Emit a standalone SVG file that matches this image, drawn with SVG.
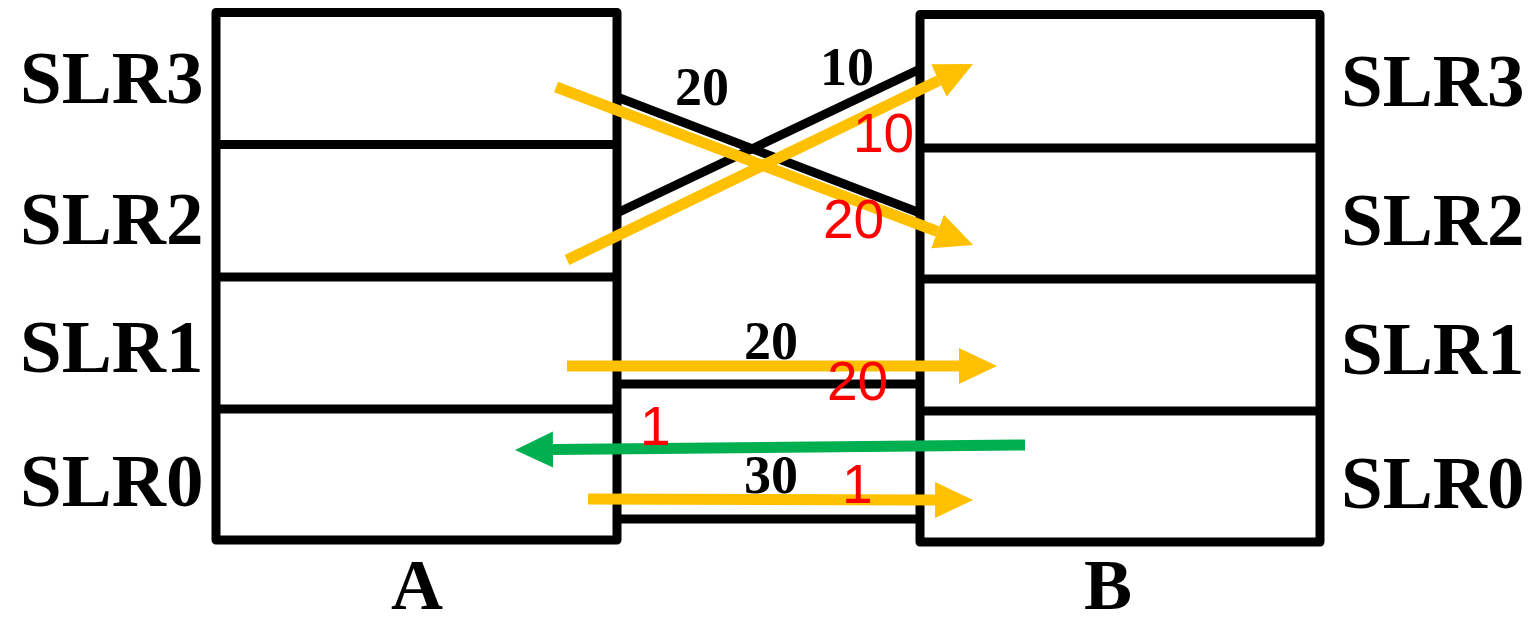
<svg xmlns="http://www.w3.org/2000/svg" width="1530" height="625" viewBox="0 0 1530 625">
  <style>
    .box { fill: none; stroke: #000; stroke-width: 9; stroke-linejoin: round; }
    .div { stroke: #000; stroke-width: 9; }
    .link { stroke: #000; stroke-width: 9; fill: none; }
    .slr { font-family: "Liberation Serif", "Times New Roman", serif; font-weight: bold; font-size: 75px; fill: #000; }
    .lbl { font-family: "Liberation Serif", "Times New Roman", serif; font-weight: bold; font-size: 72px; fill: #000; }
    .bw { font-family: "Liberation Serif", "Times New Roman", serif; font-weight: bold; font-size: 54px; fill: #000; }
    .red { font-family: "Liberation Sans", Arial, sans-serif; font-size: 55px; fill: #FF0000; }
    .or { stroke: #FFC000; stroke-width: 11; fill: none; marker-end: url(#ho); }
    .gr { stroke: #00B050; stroke-width: 11; fill: none; marker-end: url(#hg); }
  </style>
  <defs>
    <marker id="ho" markerUnits="userSpaceOnUse" markerWidth="40" markerHeight="38" refX="0" refY="18" orient="auto">
      <path d="M0,0 L38,18 L0,36 z" fill="#FFC000"/>
    </marker>
    <marker id="hg" markerUnits="userSpaceOnUse" markerWidth="40" markerHeight="38" refX="0" refY="18" orient="auto">
      <path d="M0,0 L38,18 L0,36 z" fill="#00B050"/>
    </marker>
  </defs>
  <rect width="1530" height="625" fill="#fff"/>

  <g id="nodeA">
    <rect class="box" x="216" y="12.5" width="401" height="527.5"/>
    <line class="div" x1="216" y1="144.5" x2="617" y2="144.5"/>
    <line class="div" x1="216" y1="277" x2="617" y2="277"/>
    <line class="div" x1="216" y1="409" x2="617" y2="409"/>
    <text class="lbl" x="417" y="609" text-anchor="middle">A</text>
  </g>

  <g id="nodeB">
    <rect class="box" x="920" y="14.5" width="400" height="527.5"/>
    <line class="div" x1="920" y1="148" x2="1320" y2="148"/>
    <line class="div" x1="920" y1="279" x2="1320" y2="279"/>
    <line class="div" x1="920" y1="411" x2="1320" y2="411"/>
    <text class="lbl" x="1108" y="609" text-anchor="middle">B</text>
  </g>

  <g id="labelsLeft">
    <text class="slr" x="20" y="103">SLR3</text>
    <text class="slr" x="20" y="244">SLR2</text>
    <text class="slr" x="20" y="372">SLR1</text>
    <text class="slr" x="20" y="506">SLR0</text>
  </g>
  <g id="labelsRight">
    <text class="slr" x="1341" y="106">SLR3</text>
    <text class="slr" x="1341" y="245">SLR2</text>
    <text class="slr" x="1341" y="374">SLR1</text>
    <text class="slr" x="1341" y="508">SLR0</text>
  </g>

  <g id="links">
    <line class="link" x1="617" y1="97" x2="920" y2="213"/>
    <line class="link" x1="617" y1="213" x2="920" y2="69"/>
    <line class="link" x1="617" y1="384" x2="920" y2="384"/>
    <line class="link" x1="617" y1="519" x2="920" y2="519"/>
    <text class="bw" x="702" y="105" text-anchor="middle">20</text>
    <text class="bw" x="847" y="85" text-anchor="middle">10</text>
    <text class="bw" x="771" y="359" text-anchor="middle">20</text>
    <text class="bw" x="771" y="493" text-anchor="middle">30</text>
  </g>

  <g id="connectors">
    <line class="or" x1="556" y1="87" x2="937.5" y2="231.5"/>
    <line class="or" x1="567" y1="260" x2="938.8" y2="80.5"/>
    <line class="or" x1="567" y1="366" x2="959" y2="366"/>
    <line class="or" x1="588" y1="499" x2="935" y2="500"/>
    <line class="gr" x1="1025" y1="445" x2="553" y2="449.6"/>
  </g>

  <g id="flowLabels">
    <text class="red" x="853" y="152">10</text>
    <text class="red" x="823" y="238">20</text>
    <text class="red" x="827" y="400">20</text>
    <text class="red" x="640" y="445">1</text>
    <text class="red" x="842" y="503">1</text>
  </g>
</svg>
